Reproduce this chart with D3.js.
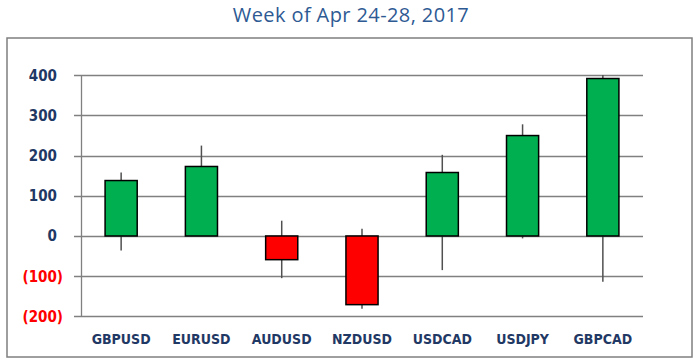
<!DOCTYPE html>
<html>
<head>
<meta charset="utf-8">
<script src="https://cdn.jsdelivr.net/npm/d3@7"></script>
<style>
  body { margin: 0; background: #fff; }
  svg { display: block; }
</style>
</head>
<body>
<svg id="chart" width="700" height="363"></svg>
<script>
'use strict';
// weekly move in pips, per pair
let pairs = ["GBPUSD", "EURUSD", "AUDUSD", "NZDUSD", "USDCAD", "USDJPY", "GBPCAD"];
let openVals = [0, 0, 0, 0, 0, 0, 0];
let closeVals = [138, 173, -59, -171, 158, 250, 392];
let highVals = [158, 225, 38, 18, 202, 278, 401];
let lowVals = [-36, 0, -105, -181, -85, -6, -114];
let yTicks = [400, 300, 200, 100, 0, -100, -200];

let title = "Week of Apr 24-28, 2017";

let data = pairs.map((p, i) => ({
    pair: p, open: openVals[i], close: closeVals[i], high: highVals[i], low: lowVals[i]
}));

let svg = d3.select("#chart"),
    plot = {left: 81, right: 643, top: 75.3, bottom: 316.3};

let x = d3.scaleBand()
    .domain(pairs)
    .range([plot.left, plot.right]);

let y = d3.scaleLinear()
    .domain([-200, 400])
    .range([plot.bottom, plot.top]);

let navy = "#1f3864";
let labelFont = "'DejaVu Sans Condensed', 'DejaVu Sans', sans-serif";

// outer frame
svg.append("rect")
    .attr("x", 7).attr("y", 38)
    .attr("width", 685).attr("height", 319)
    .attr("fill", "none")
    .attr("stroke", "#7f7f7f")
    .attr("stroke-width", 1.5);

svg.append("text")
    .attr("x", 351)
    .attr("y", 22)
    .attr("text-anchor", "middle")
    .style("font-family", "'Open Sans', sans-serif")
    .style("font-size", "20px")
    .style("letter-spacing", "0.4px")
    .style("fill", "#2e5a94")
    .text(title);

// gridlines + tick labels
let grid = svg.append("g");
grid.selectAll("line")
    .data(yTicks)
    .enter().append("line")
    .attr("x1", plot.left - 7)
    .attr("x2", plot.right)
    .attr("y1", d => Math.round(y(d)) + 0.5)
    .attr("y2", d => Math.round(y(d)) + 0.5)
    .attr("stroke", "#808080")
    .attr("stroke-width", 1.3);

grid.append("line")
    .attr("x1", plot.left + 0.5).attr("x2", plot.left + 0.5)
    .attr("y1", y(400)).attr("y2", y(-200))
    .attr("stroke", "#808080")
    .attr("stroke-width", 1.3);

grid.selectAll("text")
    .data(yTicks)
    .enter().append("text")
    .attr("x", d => d < 0 ? 63 : 57)
    .attr("y", d => y(d))
    .attr("dy", "0.36em")
    .attr("text-anchor", "end")
    .style("font-family", labelFont)
    .style("font-weight", "bold")
    .style("font-size", "15px")
    .style("fill", d => d < 0 ? "#ff0000" : navy)
    .text(d => d < 0 ? "(" + Math.abs(d) + ")" : d);

// category labels
svg.append("g").selectAll("text")
    .data(pairs)
    .enter().append("text")
    .attr("x", d => x(d) + x.bandwidth() / 2)
    .attr("y", 343.5)
    .attr("text-anchor", "middle")
    .style("font-family", labelFont)
    .style("font-weight", "bold")
    .style("font-size", "14px")
    .style("fill", navy)
    .text(d => d);

// candles
let bodyW = x.bandwidth() * 0.4;
let candle = svg.append("g").selectAll("g")
    .data(data)
    .enter().append("g");

candle.append("line")
    .attr("x1", d => x(d.pair) + x.bandwidth() / 2)
    .attr("x2", d => x(d.pair) + x.bandwidth() / 2)
    .attr("y1", d => y(d.high))
    .attr("y2", d => y(d.low))
    .attr("stroke", "#505050")
    .attr("stroke-width", 1.5);

candle.append("rect")
    .attr("x", d => x(d.pair) + (x.bandwidth() - bodyW) / 2)
    .attr("y", d => y(Math.max(d.open, d.close)))
    .attr("width", bodyW)
    .attr("height", d => Math.abs(y(d.open) - y(d.close)))
    .attr("fill", d => d.close >= d.open ? "#00b050" : "#ff0000")
    .attr("stroke", "#000")
    .attr("stroke-width", 1.5);
</script>
</body>
</html>
